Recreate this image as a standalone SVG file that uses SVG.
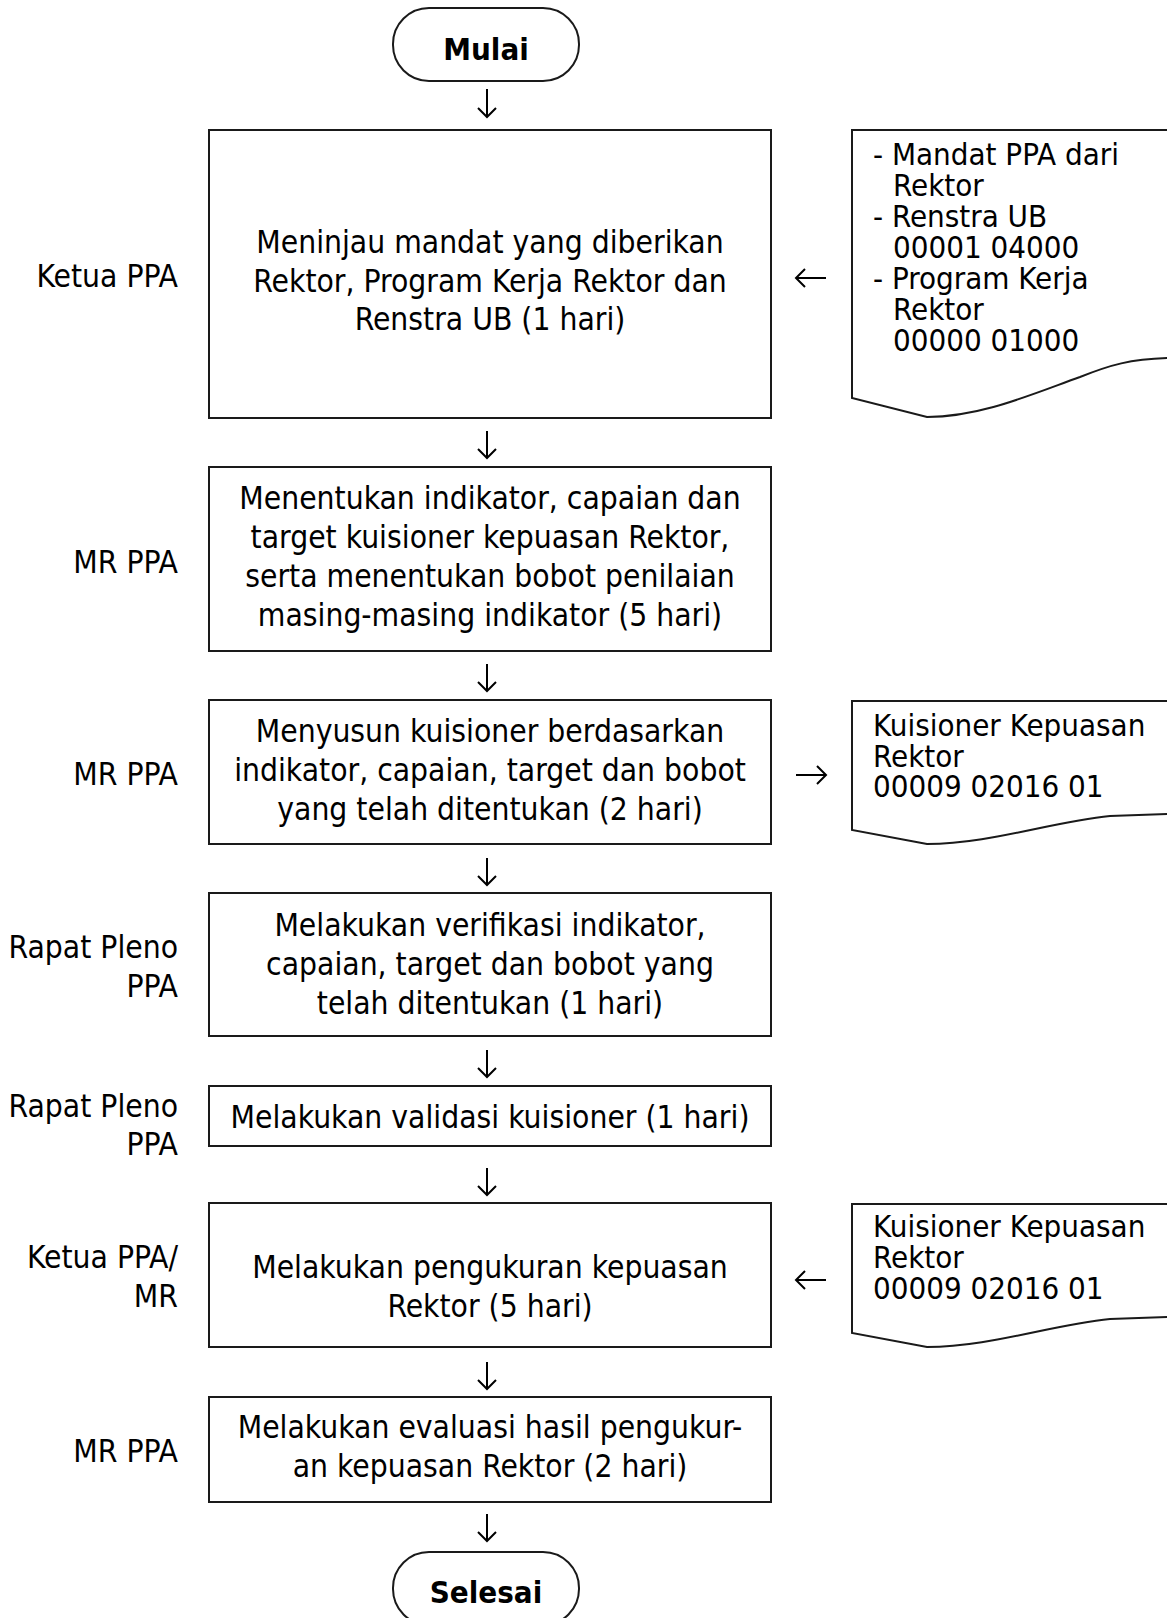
<svg xmlns="http://www.w3.org/2000/svg" width="1167" height="1618" viewBox="0 0 1167 1618">
<style>
  text { font-family: "DejaVu Sans Condensed", "DejaVu Sans", sans-serif; font-stretch: condensed; font-size: 31.5px; fill: #000; }
  .c { text-anchor: middle; }
  .r { text-anchor: end; }
  .b { font-weight: bold; font-size: 31px; }
  .d { font-size: 31px; }
  .box { fill: #fff; stroke: #1a1a1a; stroke-width: 2; }
  .conn { fill: none; stroke: #000; stroke-width: 2; }
</style>
<rect width="1167" height="1618" fill="#fff"/>

<g id="mulai">
  <rect class="box" x="393" y="8" width="186" height="73" rx="36" ry="36"/>
  <text class="c b" x="486" y="60">Mulai</text>
</g>

<g id="step1">
  <rect class="box" x="209" y="130" width="562" height="288"/>
  <text class="c" x="490" y="253">Meninjau mandat yang diberikan</text>
  <text class="c" x="490" y="292">Rektor, Program Kerja Rektor dan</text>
  <text class="c" x="490" y="330">Renstra UB (1 hari)</text>
  <text class="r" x="178" y="287">Ketua PPA</text>
</g>

<g id="doc1">
  <path class="box" d="M1170,130 H852 V398 L927,417 C980,417 1030,395 1080,377 C1110,365 1130,359 1170,358"/>
  <text class="d" x="873" y="165">- Mandat PPA dari</text>
  <text class="d" x="893" y="196">Rektor</text>
  <text class="d" x="873" y="227">- Renstra UB</text>
  <text class="d" x="893" y="258">00001 04000</text>
  <text class="d" x="873" y="289">- Program Kerja</text>
  <text class="d" x="893" y="320">Rektor</text>
  <text class="d" x="893" y="351">00000 01000</text>
</g>

<g id="step2">
  <rect class="box" x="209" y="467" width="562" height="184"/>
  <text class="c" x="490" y="509">Menentukan indikator, capaian dan</text>
  <text class="c" x="490" y="548">target kuisioner kepuasan Rektor,</text>
  <text class="c" x="490" y="587">serta menentukan bobot penilaian</text>
  <text class="c" x="490" y="626">masing-masing indikator (5 hari)</text>
  <text class="r" x="178" y="573">MR PPA</text>
</g>

<g id="step3">
  <rect class="box" x="209" y="700" width="562" height="144"/>
  <text class="c" x="490" y="742">Menyusun kuisioner berdasarkan</text>
  <text class="c" x="490" y="781">indikator, capaian, target dan bobot</text>
  <text class="c" x="490" y="820">yang telah ditentukan (2 hari)</text>
  <text class="r" x="178" y="785">MR PPA</text>
</g>

<g id="doc2">
  <path class="box" d="M1170,701 H852 V830 L927,844 C990,844 1050,822 1110,816 L1170,814"/>
  <text class="d" x="873" y="736">Kuisioner Kepuasan</text>
  <text class="d" x="873" y="767">Rektor</text>
  <text class="d" x="873" y="797">00009 02016 01</text>
</g>

<g id="step4">
  <rect class="box" x="209" y="893" width="562" height="143"/>
  <text class="c" x="490" y="936">Melakukan verifikasi indikator,</text>
  <text class="c" x="490" y="975">capaian, target dan bobot yang</text>
  <text class="c" x="490" y="1014">telah ditentukan (1 hari)</text>
  <text class="r" x="178" y="958">Rapat Pleno</text>
  <text class="r" x="178" y="997">PPA</text>
</g>

<g id="step5">
  <rect class="box" x="209" y="1086" width="562" height="60"/>
  <text class="c" x="490" y="1128">Melakukan validasi kuisioner (1 hari)</text>
  <text class="r" x="178" y="1117">Rapat Pleno</text>
  <text class="r" x="178" y="1155">PPA</text>
</g>

<g id="step6">
  <rect class="box" x="209" y="1203" width="562" height="144"/>
  <text class="c" x="490" y="1278">Melakukan pengukuran kepuasan</text>
  <text class="c" x="490" y="1317">Rektor (5 hari)</text>
  <text class="r" x="178" y="1268">Ketua PPA/</text>
  <text class="r" x="178" y="1307">MR</text>
</g>

<g id="doc3">
  <path class="box" d="M1170,1204 H852 V1333 L927,1347 C990,1347 1050,1325 1110,1319 L1170,1317"/>
  <text class="d" x="873" y="1237">Kuisioner Kepuasan</text>
  <text class="d" x="873" y="1268">Rektor</text>
  <text class="d" x="873" y="1299">00009 02016 01</text>
</g>

<g id="step7">
  <rect class="box" x="209" y="1397" width="562" height="105"/>
  <text class="c" x="490" y="1438">Melakukan evaluasi hasil pengukur-</text>
  <text class="c" x="490" y="1477">an kepuasan Rektor (2 hari)</text>
  <text class="r" x="178" y="1462">MR PPA</text>
</g>

<g id="selesai">
  <rect class="box" x="393" y="1552" width="186" height="73" rx="36" ry="36"/>
  <text class="c b" x="486" y="1603">Selesai</text>
</g>

<g id="connectors">
  <path class="conn" d="M487,89 V117 M478,108 L487,117 L496,108"/>
  <path class="conn" d="M487,431 V458 M478,449 L487,458 L496,449"/>
  <path class="conn" d="M487,664 V691 M478,682 L487,691 L496,682"/>
  <path class="conn" d="M487,858 V885 M478,876 L487,885 L496,876"/>
  <path class="conn" d="M487,1050 V1077 M478,1068 L487,1077 L496,1068"/>
  <path class="conn" d="M487,1168 V1195 M478,1186 L487,1195 L496,1186"/>
  <path class="conn" d="M487,1362 V1389 M478,1380 L487,1389 L496,1380"/>
  <path class="conn" d="M487,1514 V1541 M478,1532 L487,1541 L496,1532"/>
  <path class="conn" d="M826,278 H796 M805,269 L796,278 L805,287"/>
  <path class="conn" d="M796,775 H826 M817,766 L826,775 L817,784"/>
  <path class="conn" d="M826,1280 H796 M805,1271 L796,1280 L805,1289"/>
</g>
</svg>
